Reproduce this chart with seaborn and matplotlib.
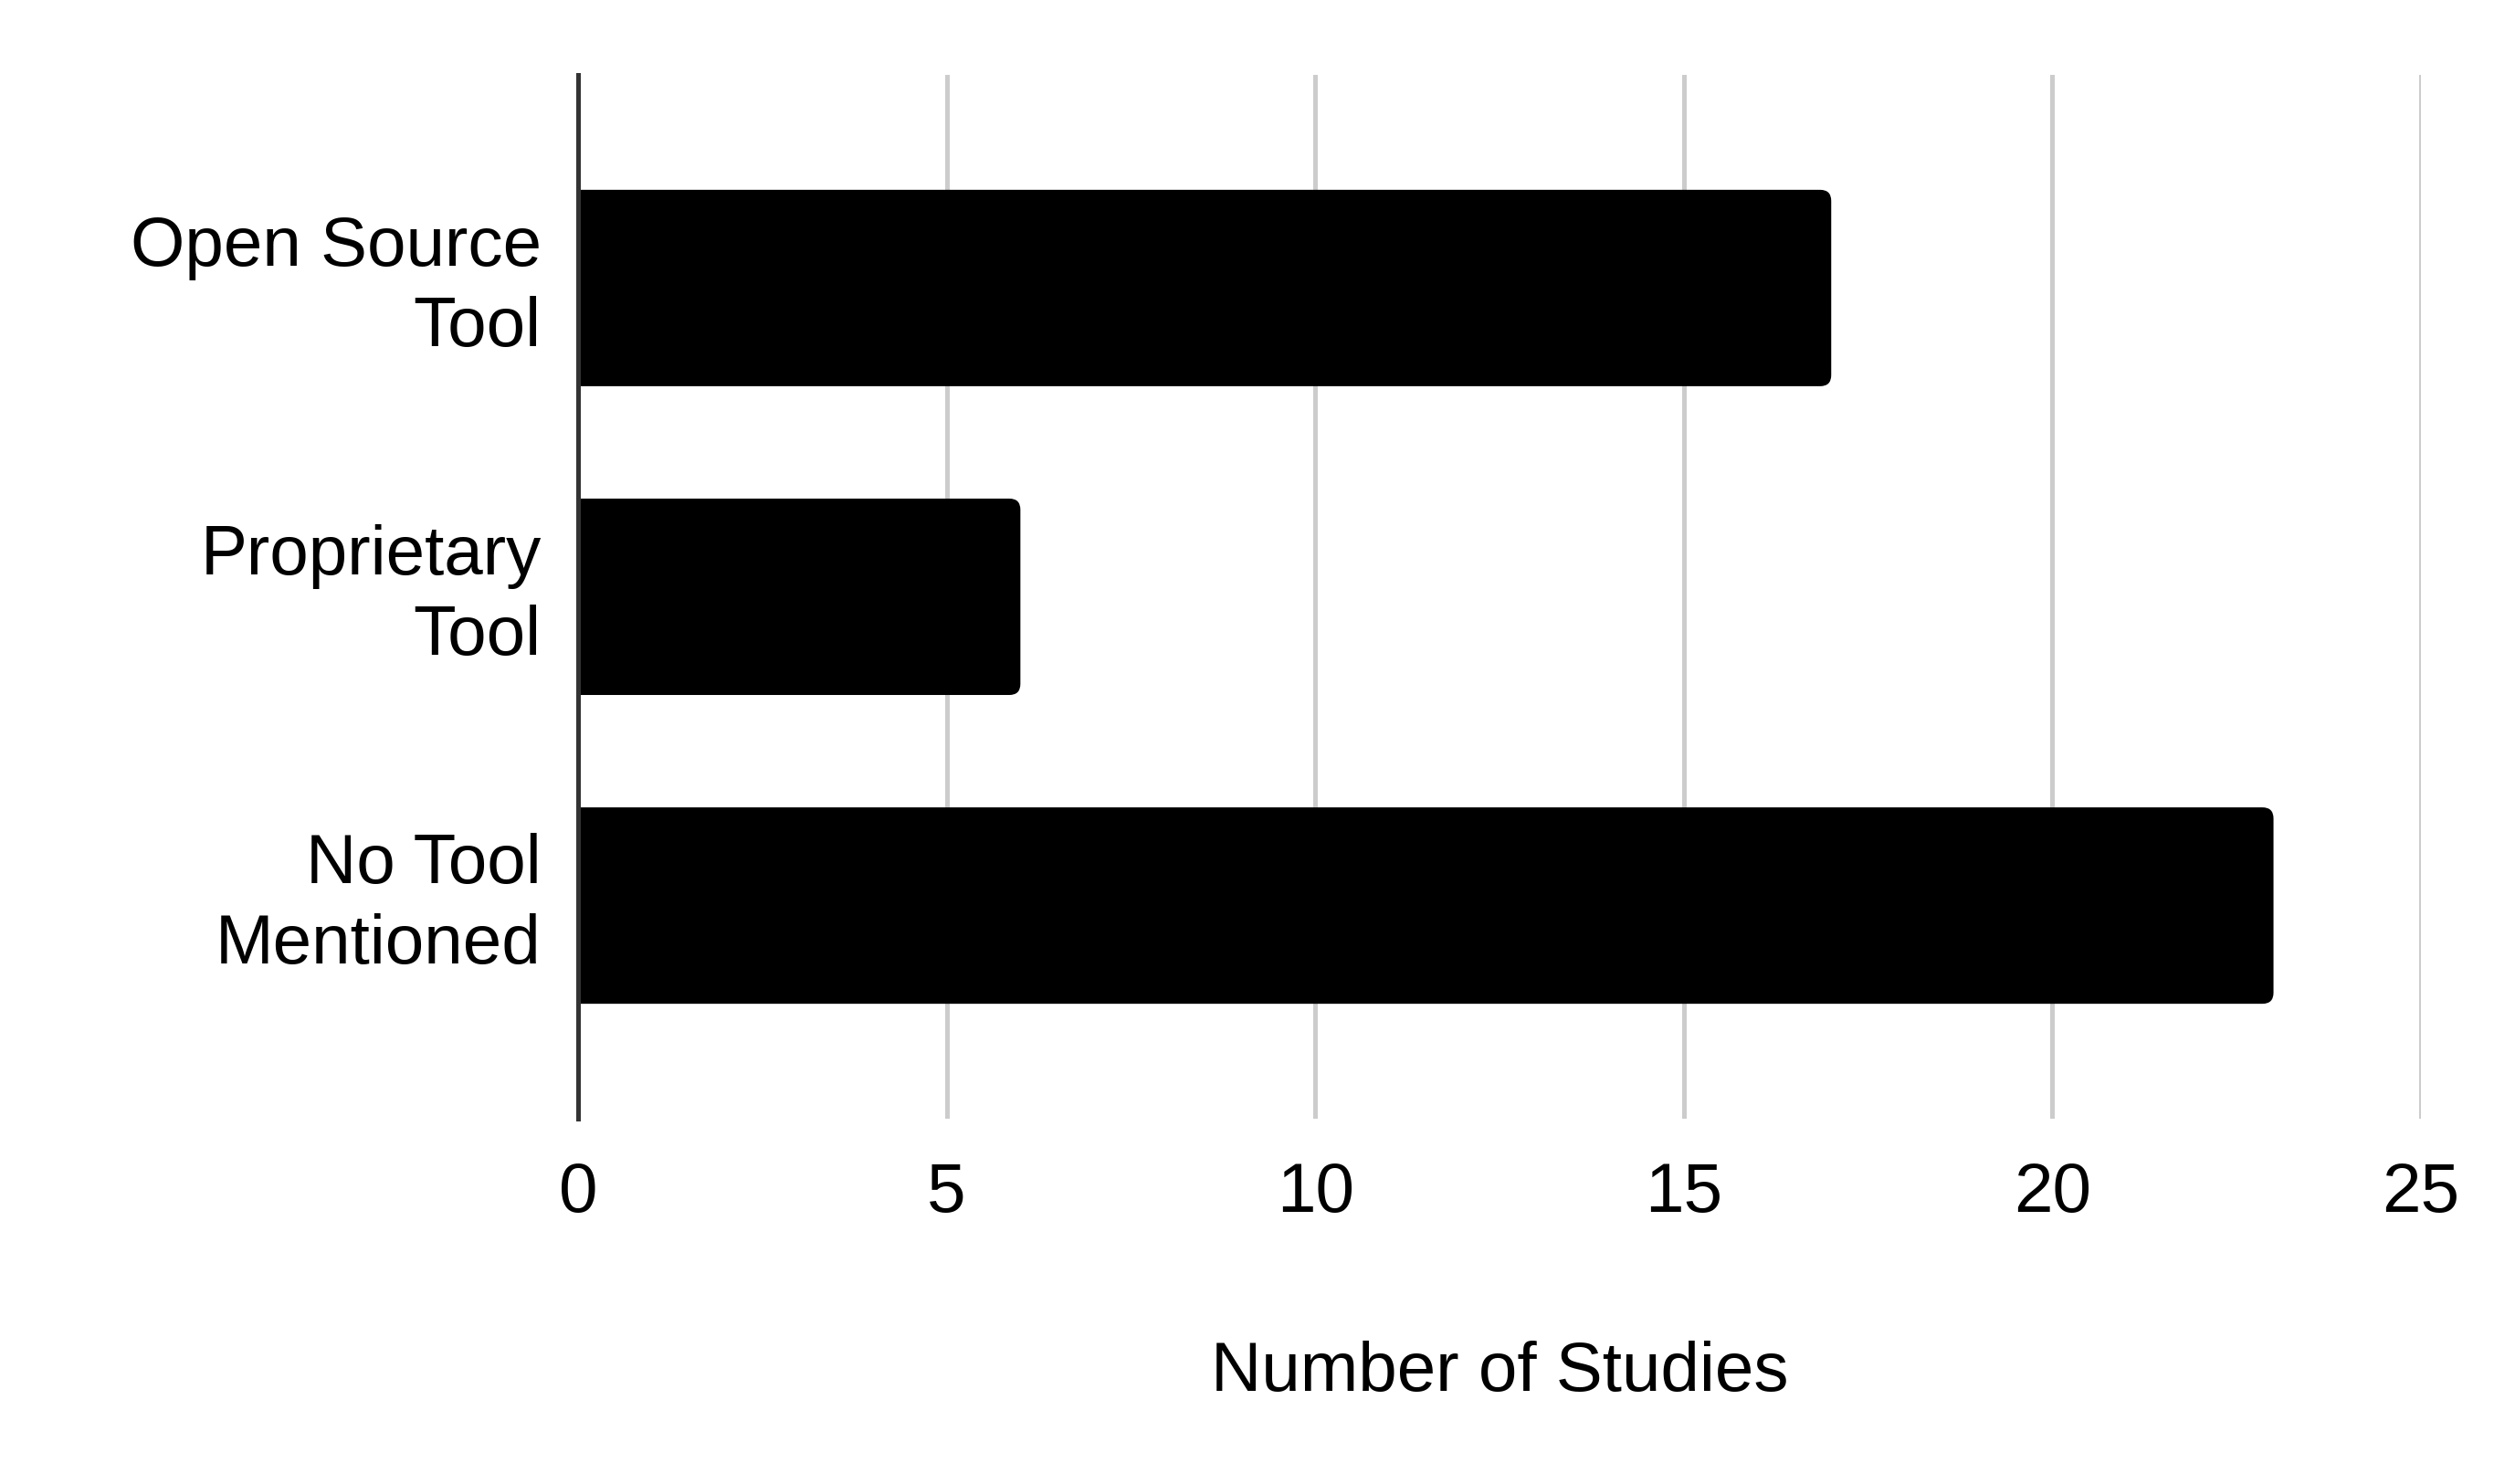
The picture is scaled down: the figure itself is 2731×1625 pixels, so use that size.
import numpy as np
import pandas as pd
import seaborn as sns
import matplotlib.pyplot as plt
from matplotlib.patches import FancyBboxPatch

# datos
categorias = ["Open Source\nTool", "Proprietary\nTool", "No Tool\nMentioned"]
estudios = [17, 6, 23]
ticks_x = [0, 5, 10, 15, 20, 25]

df = pd.DataFrame({"categoria": categorias, "estudios": estudios})

sns.set_style("white")
plt.rcParams["font.family"] = ["Liberation Sans", "DejaVu Sans"]

fig = plt.figure(figsize=(27.31, 16.25), dpi=100)
ax = fig.add_axes([0.2318, 0.2462, 0.9707 - 0.2318, 0.9495 - 0.2462])

sns.barplot(data=df, x="estudios", y="categoria", color="black",
            width=0.636, ax=ax, zorder=3)

# esquinas redondeadas solo en el extremo derecho
for p in list(ax.patches):
    x0, y0 = p.get_x(), p.get_y()
    w, h = p.get_width(), p.get_height()
    r = 0.15
    fb = FancyBboxPatch((x0 - 0.5, y0), w + 0.5, h,
                        boxstyle=f"round,pad=0,rounding_size={r}",
                        mutation_aspect=0.24,
                        facecolor="black", edgecolor="none", zorder=3)
    fb.set_clip_path(ax.patch)
    p.remove()
    ax.add_patch(fb)

ax.set_xlim(0, 25)
ax.set_ylim(2.69, -0.69)
ax.set_xticks(ticks_x)
ax.set_xticklabels([str(t) for t in ticks_x])

ax.grid(axis="x", color="#cccccc", linewidth=3.6, zorder=0)
ax.grid(axis="y", visible=False)
ax.set_axisbelow(True)

for s in ["top", "right", "bottom"]:
    ax.spines[s].set_visible(False)
ax.spines["left"].set_color("#333333")
ax.spines["left"].set_linewidth(3.6)
ax.spines["left"].set_zorder(4)

ax.tick_params(axis="both", length=0, labelsize=55, labelcolor="black")
ax.tick_params(axis="y", pad=29)
ax.tick_params(axis="x", pad=34)
for lbl in ax.get_yticklabels():
    lbl.set_linespacing(1.3)
    lbl.set_verticalalignment("center")

ax.set_ylabel("")
ax.set_xlabel("Number of Studies", fontsize=55, color="black", labelpad=90)

fig.savefig("out.png", dpi=100)
